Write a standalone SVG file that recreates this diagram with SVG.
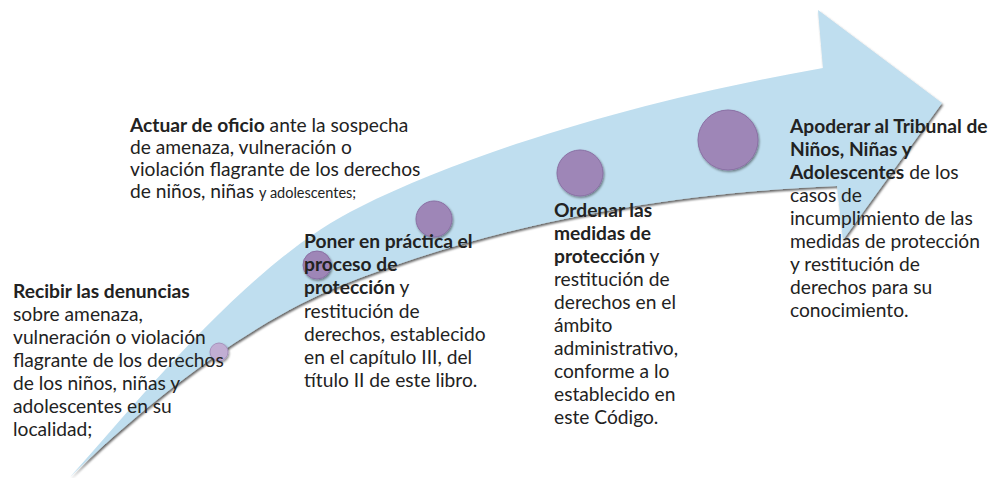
<svg xmlns="http://www.w3.org/2000/svg" width="992" height="478" viewBox="0 0 992 478">
  <defs>
    <filter id="sh" x="-10%" y="-10%" width="120%" height="130%">
      <feDropShadow dx="1.2" dy="2" stdDeviation="0.9" flood-color="#000" flood-opacity="0.6"/>
    </filter>
    <filter id="csh" x="-30%" y="-30%" width="160%" height="160%">
      <feDropShadow dx="1" dy="1.5" stdDeviation="1" flood-color="#000" flood-opacity="0.45"/>
    </filter>
  </defs>
  <style>
    .arrow { fill: #bfdeef; }
    .dot { fill: #9e86b7; stroke: #8a70a4; stroke-width: 1; }
    .dot-light { fill: #c1aed3; stroke: #a792bd; stroke-width: 1; }
    text { font-family: Lato, "Liberation Sans", sans-serif; font-size: 19.2px; fill: #222; }
    .b { font-weight: bold; }
    .sm { font-size: 14.5px; }
  </style>
  <rect width="992" height="478" fill="#fff"/>

  <g id="arrow" filter="url(#sh)">
    <path class="arrow" d="M70,477 C140,400 250,260 360,207 C470,152 640,100 823,68 L818,10 L942,103 L843,240 L837,186 C620,195 450,240 330,290 C240,330 150,400 70,477 Z"/>
  </g>

  <g id="markers" filter="url(#csh)">
    <circle id="dot1" class="dot-light" cx="219" cy="352" r="9"/>
    <circle id="dot2" class="dot" cx="317" cy="265" r="14"/>
    <circle id="dot3" class="dot" cx="434" cy="219" r="18"/>
    <circle id="dot4" class="dot" cx="580" cy="173" r="23"/>
    <circle id="dot5" class="dot" cx="728" cy="140" r="30"/>
  </g>

  <g id="step1">
    <text x="13" y="298"><tspan class="b">Recibir las denuncias</tspan></text>
    <text x="13" y="321">sobre amenaza,</text>
    <text x="13" y="344">vulneración o violación</text>
    <text x="13" y="367">flagrante de los derechos</text>
    <text x="13" y="390">de los niños, niñas y</text>
    <text x="13" y="413">adolescentes en su</text>
    <text x="13" y="436">localidad;</text>
  </g>

  <g id="step2">
    <text x="130" y="132"><tspan class="b">Actuar de oficio</tspan> ante la sospecha</text>
    <text x="130" y="154">de amenaza, vulneración o</text>
    <text x="130" y="176">violación flagrante de los derechos</text>
    <text x="130" y="198">de niños, niñas <tspan class="sm">y adolescentes;</tspan></text>
  </g>

  <g id="step3">
    <text x="304" y="248" class="b">Poner en práctica el</text>
    <text x="304" y="271" class="b">proceso de</text>
    <text x="304" y="294"><tspan class="b">protección</tspan> y</text>
    <text x="304" y="318">restitución de</text>
    <text x="304" y="341">derechos, establecido</text>
    <text x="304" y="364">en el capítulo III, del</text>
    <text x="304" y="387">título II de este libro.</text>
  </g>

  <g id="step4">
    <text x="554" y="217" class="b">Ordenar las</text>
    <text x="554" y="240" class="b">medidas de</text>
    <text x="554" y="263"><tspan class="b">protección</tspan> y</text>
    <text x="554" y="286">restitución de</text>
    <text x="554" y="309">derechos en el</text>
    <text x="554" y="332">ámbito</text>
    <text x="554" y="355">administrativo,</text>
    <text x="554" y="378">conforme a lo</text>
    <text x="554" y="401">establecido en</text>
    <text x="554" y="424">este Código.</text>
  </g>

  <g id="step5">
    <text x="790" y="133" class="b">Apoderar al Tribunal de</text>
    <text x="790" y="156" class="b">Niños, Niñas y</text>
    <text x="790" y="179"><tspan class="b">Adolescentes</tspan> de los</text>
    <text x="790" y="202">casos de</text>
    <text x="790" y="225">incumplimiento de las</text>
    <text x="790" y="248">medidas de protección</text>
    <text x="790" y="271">y restitución de</text>
    <text x="790" y="294">derechos para su</text>
    <text x="790" y="317">conocimiento.</text>
  </g>
</svg>
